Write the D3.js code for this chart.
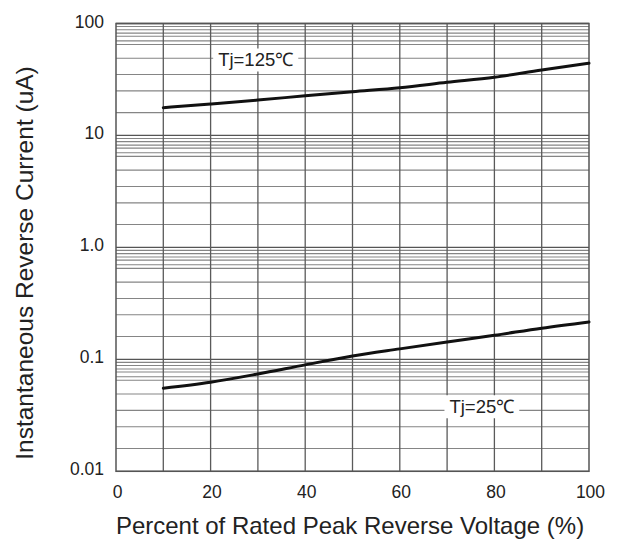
<!DOCTYPE html>
<html>
<head>
<meta charset="utf-8">
<script src="https://cdn.jsdelivr.net/npm/d3@7"></script>
<style>
  html, body { margin: 0; padding: 0; background: #fff; }
  svg { display: block; }
  text { font-family: "Liberation Sans", Arial, sans-serif; fill: #222; }
</style>
</head>
<body>
<svg id="chart" width="617" height="539"></svg>
<script>
// ---- data ----
const percentX = [10, 20, 30, 40, 50, 60, 70, 80, 90, 100];
const current125 = [17.7, 19.1, 20.7, 22.6, 24.6, 26.7, 29.8, 33.1, 38.5, 44.2];
const current25 = [0.0553, 0.0625, 0.074, 0.0893, 0.107, 0.124, 0.143, 0.164, 0.19, 0.216];
const seriesLabels = ["Tj=125\u2103", "Tj=25\u2103"];
const xTicks = [0, 20, 40, 60, 80, 100];
const xTickLabels = ["0", "20", "40", "60", "80", "100"];
const yTicks = [100, 10, 1, 0.1, 0.01];
const yTickLabels = ["100", "10", "1.0", "0.1", "0.01"];
const xGridValues = [10, 20, 30, 40, 50, 60, 70, 80, 90];
// minor grid multipliers within each decade (as printed on the original sheet)
const minorMultipliers = [9.4, 8.8, 8.2, 7.7, 7.0, 6.5, 4.9, 3.5, 2.5, 1.6];
const decadeBases = [0.01, 0.1, 1, 10];
const xTitle = "Percent of Rated Peak Reverse Voltage (%)";
const yTitle = "Instantaneous Reverse Current (uA)";
// label anchors (data coordinates: percent, current at text baseline)
const labelAnchorX = [21.6, 70.5];
const labelAnchorV = [41.3, 0.033];

// ---- layout ----
const svg = d3.select("#chart");
const L = 116, R = 589, T = 23.5, B = 471.3;
const x = d3.scaleLinear().domain([0, 100]).range([L, R]);
const y = d3.scaleLog().domain([0.01, 100]).range([B, T]);

const g = svg.append("g");

// minor horizontal grid
const minorVals = [];
decadeBases.forEach(b => minorMultipliers.forEach(m => minorVals.push(b * m)));
g.selectAll("line.minor").data(minorVals).enter().append("line")
  .attr("x1", L).attr("x2", R)
  .attr("y1", d => y(d)).attr("y2", d => y(d))
  .attr("stroke", "#858585").attr("stroke-width", 1.1);

// decade lines
g.selectAll("line.decade").data(yTicks).enter().append("line")
  .attr("x1", L).attr("x2", R)
  .attr("y1", d => y(d)).attr("y2", d => y(d))
  .attr("stroke", "#555").attr("stroke-width", 1.3);

// vertical grid
g.selectAll("line.vgrid").data(xGridValues).enter().append("line")
  .attr("x1", d => x(d)).attr("x2", d => x(d))
  .attr("y1", T).attr("y2", B)
  .attr("stroke", "#5a5a5a").attr("stroke-width", 1.3);

// frame
g.append("rect").attr("x", L).attr("y", T).attr("width", R - L).attr("height", B - T)
  .attr("fill", "none").attr("stroke", "#555").attr("stroke-width", 1.5);

// curves
const line = d3.line().x((d, i) => x(percentX[i])).y(d => y(d)).curve(d3.curveMonotoneX);
[current125, current25].forEach(s => {
  g.append("path").attr("d", line(s))
    .attr("fill", "none").attr("stroke", "#111").attr("stroke-width", 3)
    .attr("stroke-linecap", "round");
});

// series labels with white background breaking grid lines
seriesLabels.forEach((lab, i) => {
  const lg = g.append("g");
  const t = lg.append("text")
    .attr("x", x(labelAnchorX[i])).attr("y", y(labelAnchorV[i]))
    .attr("font-size", 18.5).text(lab);
  const bb = t.node().getBBox();
  lg.insert("rect", "text")
    .attr("x", bb.x - 5).attr("y", bb.y - 1)
    .attr("width", bb.width + 10).attr("height", bb.height + 2)
    .attr("fill", "#fff");
});

// x tick labels
g.selectAll("text.xt").data(xTicks).enter().append("text")
  .attr("x", d => x(d) + 1.5).attr("y", 498)
  .attr("text-anchor", "middle").attr("font-size", 17.5)
  .text((d, i) => xTickLabels[i]);

// y tick labels
g.selectAll("text.yt").data(yTicks).enter().append("text")
  .attr("x", 104).attr("y", d => y(d) + 4)
  .attr("text-anchor", "end").attr("font-size", 17.5)
  .text((d, i) => yTickLabels[i]);

// axis titles
svg.append("text").attr("x", 350).attr("y", 534)
  .attr("text-anchor", "middle").attr("font-size", 24).text(xTitle);
svg.append("text").attr("transform", "translate(33,263) rotate(-90)")
  .attr("text-anchor", "middle").attr("font-size", 24.5).text(yTitle);
</script>
</body>
</html>
